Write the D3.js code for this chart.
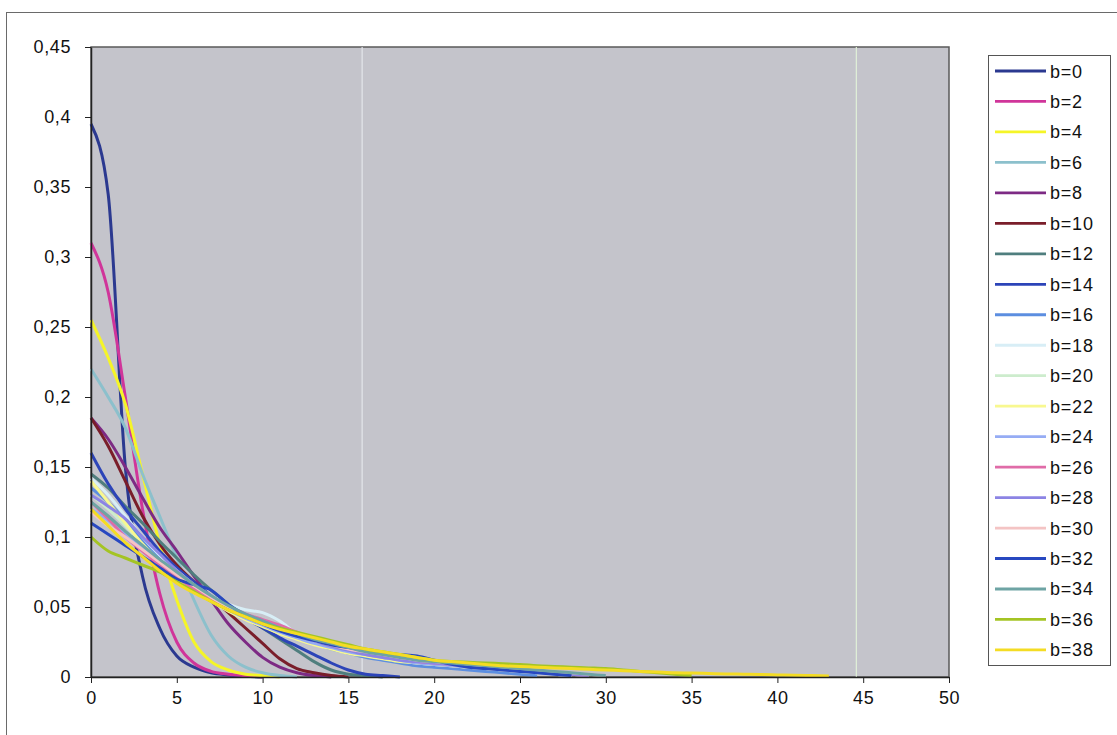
<!DOCTYPE html>
<html>
<head>
<meta charset="utf-8">
<script src="https://cdn.jsdelivr.net/npm/d3@7"></script>
<style>
  body { margin: 0; background: #fff; }
  svg { display: block; font-family: "Liberation Sans", Arial, sans-serif; }
  .axis path, .axis line { stroke: #222; }
  .axis text { font-size: 18px; fill: #111; letter-spacing: 0.6px; }
</style>
</head>
<body>
<div class="container"></div>
<script>
const WIDTH = 1117;
const HEIGHT = 735;

// plot area
const LEFT = 91, RIGHT = 949, TOP = 47, BOTTOM = 677;

// data: one array per b value, index = x (0, 1, 2, ...)
const labels = ["b=0","b=2","b=4","b=6","b=8","b=10","b=12","b=14","b=16","b=18",
                "b=20","b=22","b=24","b=26","b=28","b=30","b=32","b=34","b=36","b=38"];
const colors = ["#2b3990","#d0359a","#f5f528","#8cc0cc","#7d2a84","#7a1e2a","#4f7e7e","#2c44b8",
                "#5c8ee0","#d8eef6","#cdeccd","#f8f890","#96acf4","#e06ca8","#8c84e4","#f4c4c4",
                "#2848c0","#6ea4a4","#a4c424","#f4dc24"];

const b0  = [0.395,0.345,0.15,0.072,0.035,0.015,0.007,0.003,0.0015,0.0005,0];
const b2  = [0.31,0.275,0.2,0.12,0.06,0.025,0.01,0.004,0.002,0.001,0];
const b4  = [0.255,0.228,0.195,0.145,0.095,0.055,0.025,0.011,0.005,0.002,0.001,0];
const b6  = [0.22,0.2,0.178,0.145,0.115,0.085,0.055,0.03,0.015,0.007,0.003,0.001,0];
const b8  = [0.185,0.17,0.15,0.128,0.107,0.09,0.072,0.055,0.038,0.025,0.014,0.007,0.003,0.001,0];
const b10 = [0.185,0.165,0.14,0.115,0.095,0.08,0.068,0.057,0.046,0.035,0.024,0.013,0.006,0.003,0.001,0];
const b12 = [0.145,0.135,0.122,0.11,0.097,0.085,0.073,0.062,0.052,0.043,0.035,0.027,0.019,0.011,0.005,0.002,0.001,0];
const b14 = [0.16,0.138,0.12,0.105,0.09,0.078,0.068,0.058,0.05,0.042,0.035,0.028,0.022,0.016,0.01,0.005,0.002,0.001,0];
const b16 = [0.135,0.125,0.112,0.098,0.085,0.074,0.065,0.057,0.05,0.044,0.038,0.033,0.028,0.024,0.02,0.017,0.014,0.012,0.01,0.008,0.007,0.006,0.005,0.004,0.003,0.002,0.001];
const b18 = [0.142,0.13,0.115,0.1,0.087,0.076,0.066,0.058,0.052,0.048,0.046,0.04,0.031,0.026,0.022,0.019,0.016,0.014,0.012,0.01,0.009,0.008,0.007,0.006,0.005,0.004,0.003,0.002,0.001];
const b20 = [0.13,0.12,0.108,0.095,0.083,0.073,0.064,0.056,0.05,0.045,0.04,0.035,0.03,0.026,0.022,0.019,0.017,0.015,0.013,0.011,0.01,0.009,0.008,0.007,0.006,0.005,0.004,0.003,0.002,0.001];
const b22 = [0.14,0.125,0.11,0.095,0.082,0.07,0.061,0.054,0.047,0.041,0.036,0.031,0.027,0.023,0.02,0.017,0.015,0.013,0.011,0.01,0.009,0.008,0.007,0.006,0.005,0.004,0.003,0.002,0.001];
const b24 = [0.12,0.112,0.102,0.092,0.082,0.072,0.063,0.055,0.048,0.042,0.037,0.032,0.028,0.024,0.021,0.018,0.016,0.014,0.012,0.01,0.009,0.008,0.007,0.006,0.005,0.004,0.003,0.002,0.001];
const b26 = [0.125,0.113,0.1,0.09,0.08,0.071,0.063,0.056,0.05,0.045,0.041,0.037,0.032,0.027,0.023,0.02,0.017,0.015,0.013,0.011,0.01,0.009,0.008,0.007,0.006,0.005,0.004,0.003,0.002,0.001];
const b28 = [0.13,0.122,0.113,0.1,0.088,0.076,0.066,0.058,0.051,0.045,0.04,0.035,0.03,0.026,0.022,0.019,0.016,0.014,0.012,0.011,0.01,0.009,0.008,0.007,0.006,0.005,0.004,0.003,0.002,0.001];
const b30 = [0.118,0.108,0.1,0.091,0.082,0.073,0.065,0.057,0.05,0.044,0.039,0.034,0.03,0.026,0.023,0.02,0.018,0.016,0.014,0.012,0.011,0.01,0.009,0.008,0.007,0.006,0.005,0.004,0.003,0.002,0.001];
const b32 = [0.11,0.102,0.094,0.086,0.078,0.07,0.066,0.062,0.052,0.044,0.038,0.033,0.029,0.026,0.023,0.021,0.019,0.017,0.016,0.015,0.012,0.009,0.007,0.006,0.005,0.004,0.003,0.002,0.001];
const b34 = [0.125,0.115,0.104,0.094,0.084,0.075,0.066,0.058,0.051,0.045,0.04,0.035,0.031,0.027,0.024,0.021,0.018,0.016,0.014,0.012,0.011,0.01,0.009,0.008,0.007,0.006,0.005,0.004,0.003,0.002,0.001];
const b36 = [0.1,0.09,0.085,0.08,0.075,0.068,0.061,0.054,0.048,0.043,0.038,0.035,0.032,0.029,0.026,0.023,0.02,0.018,0.016,0.014,0.012,0.011,0.0105,0.01,0.0095,0.009,0.008,0.0075,0.007,0.0065,0.006,0.005,0.004,0.003,0.002,0.001];
const b38 = [0.12,0.108,0.096,0.086,0.076,0.067,0.06,0.054,0.048,0.043,0.038,0.034,0.031,0.028,0.025,0.022,0.02,0.018,0.016,0.014,0.012,0.011,0.01,0.009,0.008,0.0075,0.007,0.0065,0.006,0.0055,0.005,0.0045,0.004,0.0035,0.003,0.0028,0.0025,0.0022,0.002,0.0018,0.0015,0.0012,0.001,0.0008];

const seriesValues = [b0,b2,b4,b6,b8,b10,b12,b14,b16,b18,b20,b22,b24,b26,b28,b30,b32,b34,b36,b38];

const xTicks = [0,5,10,15,20,25,30,35,40,45,50];
const yTicks = [0,0.05,0.1,0.15,0.2,0.25,0.3,0.35,0.4,0.45];

var translate = function(x, y){
  return "translate(" + x + "," + y + ")";
};

var locale = d3.formatLocale({decimal: ",", thousands: ".", grouping: [3], currency: ["", ""]});
var fmt = locale.format("~g");

var svg = d3.select('.container').append('svg')
  .attr('width', WIDTH)
  .attr('height', HEIGHT);

// outer frame of the chart
svg.append('rect')
  .attr('x', 6.5).attr('y', 12.5)
  .attr('width', WIDTH).attr('height', HEIGHT)
  .attr('fill', 'none')
  .attr('stroke', '#6a6a6a');

var xScale = d3.scaleLinear().domain([0, 50]).range([LEFT, RIGHT]);
var yScale = d3.scaleLinear().domain([0, 0.45]).range([BOTTOM, TOP]);

// plot area
svg.append('rect')
  .attr('x', LEFT).attr('y', TOP)
  .attr('width', RIGHT - LEFT).attr('height', BOTTOM - TOP)
  .attr('fill', '#c4c4cb')
  .attr('stroke', '#5a5a5a')
  .attr('stroke-width', 1.5);

// faint scan streaks seen in the original
svg.selectAll('.streak')
  .data([{x: 15.8, c: '#e4e6ea'}, {x: 44.6, c: '#e2f2d8'}])
  .enter().append('line')
  .attr('x1', d => xScale(d.x)).attr('x2', d => xScale(d.x))
  .attr('y1', TOP).attr('y2', BOTTOM)
  .attr('stroke', d => d.c)
  .attr('stroke-width', 1.2);

var line = d3.line()
  .x((d, i) => xScale(i))
  .y(d => yScale(d))
  .curve(d3.curveMonotoneX);

svg.append('g').selectAll('path')
  .data(seriesValues)
  .enter().append('path')
  .attr('d', d => line(d))
  .attr('fill', 'none')
  .attr('stroke', (d, i) => colors[i])
  .attr('stroke-width', 3)
  .attr('stroke-linejoin', 'round');

// axes
svg.append('g')
  .attr('class', 'axis')
  .attr('transform', translate(0, BOTTOM))
  .call(d3.axisBottom(xScale).tickValues(xTicks).tickSize(6).tickSizeOuter(0).tickPadding(8));

svg.append('g')
  .attr('class', 'axis')
  .attr('transform', translate(LEFT, 0))
  .call(d3.axisLeft(yScale).tickValues(yTicks).tickFormat(fmt).tickSize(6).tickSizeOuter(0).tickPadding(14));

svg.selectAll('.axis path').attr('stroke-width', 1.5);

// legend
var LEG_X = 988, LEG_Y = 55, LEG_STEP = 30.47;
svg.append('rect')
  .attr('x', LEG_X + 0.5).attr('y', LEG_Y + 0.5)
  .attr('width', 122).attr('height', 610)
  .attr('fill', '#fff')
  .attr('stroke', '#555');

var leg = svg.append('g').selectAll('g')
  .data(labels)
  .enter().append('g')
  .attr('transform', (d, i) => translate(LEG_X, LEG_Y + 16 + i * LEG_STEP));

leg.append('line')
  .attr('x1', 7).attr('x2', 58)
  .attr('stroke', (d, i) => colors[i])
  .attr('stroke-width', 2.8);

leg.append('text')
  .attr('x', 62).attr('y', 6.5)
  .attr('font-size', 18)
  .attr('letter-spacing', 0.8)
  .attr('fill', '#111')
  .text(d => d);
</script>
</body>
</html>
